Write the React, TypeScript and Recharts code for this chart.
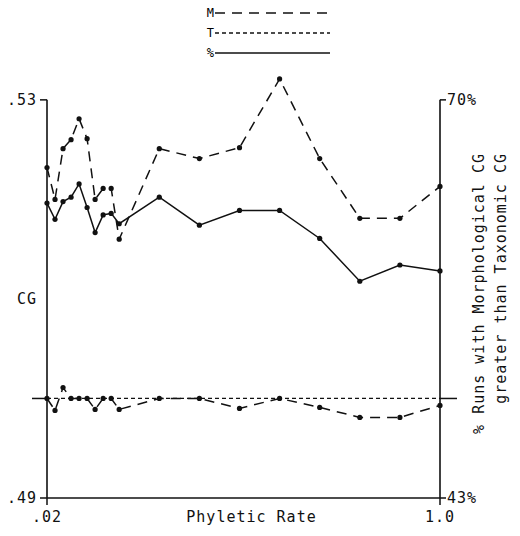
import React from 'react';
import { LineChart, Line, XAxis, YAxis, ReferenceLine, Legend, Label } from 'recharts';

// Phyletic rate at each sample
const RATES = [0.02, 0.04, 0.06, 0.08, 0.1, 0.12, 0.14, 0.16, 0.18, 0.2, 0.3, 0.4, 0.5, 0.6, 0.7, 0.8, 0.9, 1.0];

// Morphological CG, upper run
const M_UPPER = [0.5232, 0.52, 0.5251, 0.526, 0.5281, 0.5261, 0.52, 0.5211, 0.5211, 0.516, 0.5251, 0.5241, 0.5252, 0.5321, 0.5241, 0.5181, 0.5181, 0.5213];
// Morphological CG, lower run
const M_LOWER = [0.5, 0.4988, 0.5011, 0.5, 0.5, 0.5, 0.4989, 0.5, 0.5, 0.4989, 0.5, 0.5, 0.499, 0.5, 0.4991, 0.4981, 0.4981, 0.4993];
// Taxonomic CG
const T_CG = [0.5, 0.5, 0.5, 0.5, 0.5, 0.5, 0.5, 0.5, 0.5, 0.5, 0.5, 0.5, 0.5, 0.5, 0.5, 0.5, 0.5, 0.5];
// % of runs with morphological CG > taxonomic CG
const PCT = [63.0, 61.9, 63.1, 63.4, 64.3, 62.7, 61.0, 62.2, 62.3, 61.6, 63.4, 61.5, 62.5, 62.5, 60.6, 57.7, 58.8, 58.4];

const X_TICKS = [0.02, 1.0];
const X_TICK_LABELS = ['.02', '1.0'];
const CG_TICKS = [0.49, 0.53];
const CG_TICK_LABELS = ['.49', '.53'];
const PCT_TICKS = [43, 70];
const PCT_TICK_LABELS = ['43%', '70%'];
const T_LEVEL = 0.5;

const LEGEND_LABELS = ['M', 'T', '%'];

// left scale runs a little past .53 so the peak fits; right scale is stretched to match
const CG_DOMAIN: [number, number] = [0.49, 0.533];
const PCT_DOMAIN: [number, number] = [
  43,
  43 + ((70 - 43) * (CG_DOMAIN[1] - CG_DOMAIN[0])) / (0.53 - 0.49),
];
const toPct = (cg: number) => 43 + ((cg - 0.49) * (70 - 43)) / (0.53 - 0.49);

const INK = '#111';
const FONT = '"DejaVu Sans Mono", monospace';
const DASH_M = '10 7';
const DASH_T = '4 3';

const rows = RATES.map((rate, i) => ({
  rate,
  mUp: M_UPPER[i],
  mLow: M_LOWER[i],
  t: T_CG[i],
  pct: PCT[i],
}));

const textStyle = { fontFamily: FONT, fontSize: 15, letterSpacing: 1, fill: INK } as const;

const RateTick = (props: any) => {
  const { x, y, payload } = props;
  const idx = X_TICKS.indexOf(payload.value);
  return (
    <text x={x} y={y} dy="0.71em" textAnchor="middle" style={textStyle}>
      {X_TICK_LABELS[idx]}
    </text>
  );
};

const CgTick = (props: any) => {
  const { x, y, payload } = props;
  const idx = CG_TICKS.indexOf(payload.value);
  if (idx < 0) {
    return <line x1={x - 15} x2={x} y1={y} y2={y} stroke={INK} strokeWidth={1.5} />;
  }
  return (
    <g>
      <line x1={x - 7} x2={x} y1={y} y2={y} stroke={INK} strokeWidth={1.5} />
      <text x={x - 10} y={y} dy="0.35em" textAnchor="end" style={textStyle}>
        {CG_TICK_LABELS[idx]}
      </text>
    </g>
  );
};

const PctTick = (props: any) => {
  const { x, y, payload } = props;
  const idx = PCT_TICKS.indexOf(payload.value);
  if (idx < 0) {
    return <line x1={x} x2={x + 17} y1={y} y2={y} stroke={INK} strokeWidth={1.5} />;
  }
  return (
    <g>
      <line x1={x} x2={x + 6} y1={y} y2={y} stroke={INK} strokeWidth={1.5} />
      <text x={x + 7} y={y} dy="0.35em" textAnchor="start" style={textStyle}>
        {PCT_TICK_LABELS[idx]}
      </text>
    </g>
  );
};

// small key drawn above the plot: letter followed by a sample of its stroke
const KeyBlock = () => (
  <svg width={130} height={62}>
    {LEGEND_LABELS.map((label, i) => (
      <g key={label} transform={`translate(0, ${11 + i * 20})`}>
        <text x={10} y={0} dy="0.35em" textAnchor="end" style={{ fontFamily: FONT, fontSize: 12, fill: '#000' }}>
          {label}
        </text>
        <line
          x1={11}
          x2={126}
          y1={0}
          y2={0}
          stroke={INK}
          strokeWidth={1.5}
          strokeDasharray={i === 0 ? DASH_M : i === 1 ? DASH_T : undefined}
        />
      </g>
    ))}
  </svg>
);

const dotStyle = { r: 2.6, fill: INK, strokeWidth: 0 };

export default function App() {
  return (
    <div style={{ width: 512, height: 528 }}>
      <LineChart width={512} height={528} data={rows} margin={{ top: 62, right: 0, bottom: 8, left: 0 }}>
        <XAxis
          dataKey="rate"
          type="number"
          domain={[0.02, 1]}
          ticks={X_TICKS}
          interval={0}
          height={30}
          tickSize={7}
          tickMargin={6}
          axisLine={{ stroke: INK, strokeWidth: 1.5 }}
          tickLine={{ stroke: INK, strokeWidth: 1.5 }}
          tick={<RateTick />}
        >
          <Label
            content={(p: any) => {
              const vb = p.viewBox;
              return (
                <text x={vb.x + vb.width / 2 + 8} y={vb.y + 19} dy="0.35em" textAnchor="middle" style={textStyle}>
                  Phyletic Rate
                </text>
              );
            }}
          />
        </XAxis>
        <YAxis
          yAxisId="cg"
          orientation="left"
          type="number"
          domain={CG_DOMAIN}
          ticks={[CG_TICKS[0], T_LEVEL, CG_TICKS[1]]}
          interval={0}
          width={39}
          axisLine={false}
          tickLine={false}
          tickSize={0}
          tickMargin={0}
          tick={<CgTick />}
        >
          <Label
            content={(p: any) => {
              const vb = p.viewBox;
              const y = vb.y + vb.height * (1 - (0.51 - CG_DOMAIN[0]) / (CG_DOMAIN[1] - CG_DOMAIN[0]));
              return (
                <text x={vb.x + 9} y={y} dy="0.35em" textAnchor="start" style={textStyle}>
                  CG
                </text>
              );
            }}
          />
        </YAxis>
        <YAxis
          yAxisId="pct"
          orientation="right"
          type="number"
          domain={PCT_DOMAIN}
          ticks={[PCT_TICKS[0], toPct(T_LEVEL), PCT_TICKS[1]]}
          interval={0}
          width={80}
          axisLine={false}
          tickLine={false}
          tickSize={0}
          tickMargin={0}
          tick={<PctTick />}
        >
          <Label
            content={(p: any) => {
              const vb = p.viewBox;
              const yTop = vb.y + 83;
              const x1 = vb.x + 44;
              const x2 = vb.x + 66;
              return (
                <g>
                  <text x={x1} y={yTop} textAnchor="end" transform={`rotate(-90, ${x1}, ${yTop})`} style={textStyle}>
                    % Runs with Morphological CG
                  </text>
                  <text x={x2} y={yTop} textAnchor="end" transform={`rotate(-90, ${x2}, ${yTop})`} style={textStyle}>
                    greater than Taxonomic CG
                  </text>
                </g>
              );
            }}
          />
        </YAxis>
        <Legend
          layout="vertical"
          align="center"
          verticalAlign="middle"
          wrapperStyle={{ top: -6, left: 196, width: 130 }}
          content={<KeyBlock />}
        />
        <ReferenceLine
          yAxisId="cg"
          segment={[{ x: 0.02, y: 0.49 }, { x: 0.02, y: 0.53 }]}
          stroke={INK}
          strokeWidth={1.6}
        />
        <ReferenceLine
          yAxisId="pct"
          segment={[{ x: 1, y: 43 }, { x: 1, y: 70 }]}
          stroke={INK}
          strokeWidth={1.6}
        />
        <Line
          yAxisId="cg"
          dataKey="t"
          stroke={INK}
          strokeWidth={1.3}
          strokeDasharray={DASH_T}
          dot={false}
          isAnimationActive={false}
        />
        <Line
          yAxisId="cg"
          dataKey="mLow"
          stroke={INK}
          strokeWidth={1.5}
          strokeDasharray={DASH_M}
          dot={dotStyle}
          isAnimationActive={false}
        />
        <Line
          yAxisId="cg"
          dataKey="mUp"
          stroke={INK}
          strokeWidth={1.5}
          strokeDasharray={DASH_M}
          dot={dotStyle}
          isAnimationActive={false}
        />
        <Line
          yAxisId="pct"
          dataKey="pct"
          stroke={INK}
          strokeWidth={1.5}
          dot={dotStyle}
          isAnimationActive={false}
        />
      </LineChart>
    </div>
  );
}
